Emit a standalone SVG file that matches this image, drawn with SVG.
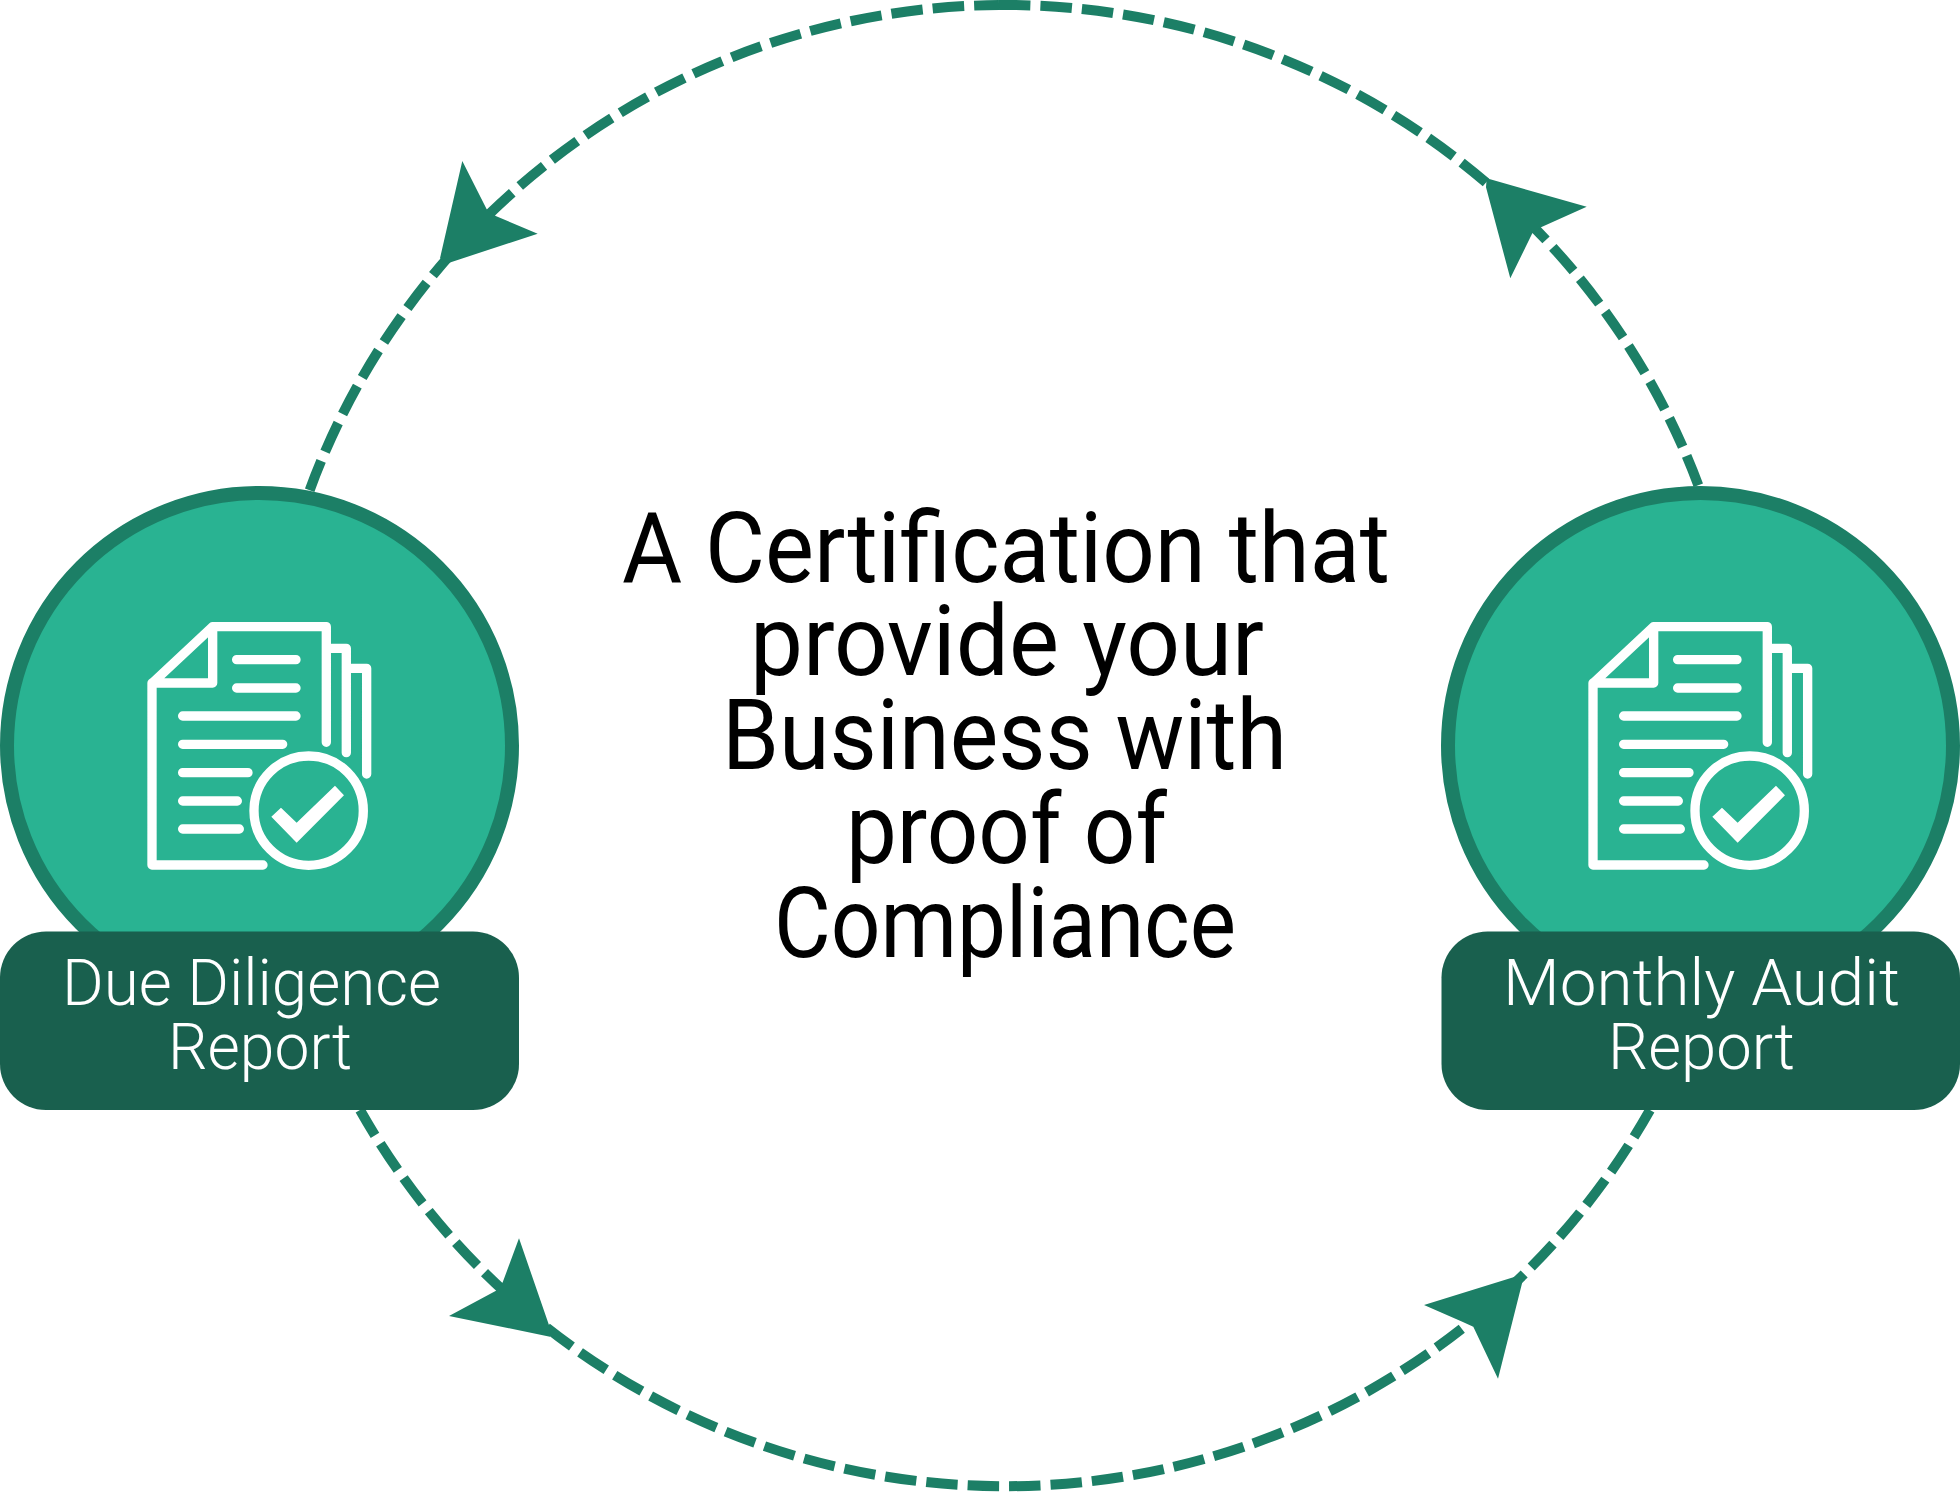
<svg xmlns="http://www.w3.org/2000/svg" xmlns:xlink="http://www.w3.org/1999/xlink" width="1960" height="1492" viewBox="0 0 1960 1492">
<style>
.arc{fill:none;stroke:#1c7f66;stroke-width:10;stroke-dasharray:31.500 10}
.head{fill:#1c7f66}
.disc{fill:#29b392;stroke:#1c7f66;stroke-width:14}
.tag{fill:#19604e}
.ln{fill:none;stroke:#fff;stroke-width:28;stroke-linecap:round;stroke-linejoin:round}
.tick{fill:#fff}
.title{font-family:"Roboto","Liberation Sans",sans-serif;font-size:98px;fill:#000}
.lab{font-family:"Roboto","Liberation Sans",sans-serif;font-weight:300;font-size:65px;fill:#fff}
</style>
<defs>
<g id="doc">
<path class="ln" d="M369 765H36V220L218 50H559V397M218 50V219H36M575 115H619V428M635 175H680V492M290 149H468M290 234H468M128 318H468M128 403H428M128 488H324M128 573H292M128 657H298"/>
<circle class="ln" cx="506" cy="602" r="164"/>
<polygon class="tick" points="394,620 423,593 470,638 585,527 612,556 470,698"/>
</g>
</defs>
<rect width="1960" height="1492" fill="#fff"/>
<g id="connectors">
<path class="arc" d="M999 5A741 741 0 0 1 1699 487"/>
<path class="arc" stroke-dashoffset="6.500" d="M999 5A741 741 0 0 0 309 492"/>
<path class="arc" stroke-dashoffset="2" d="M360 1110A741 741 0 0 0 1650 1110"/>
<polygon class="head" points="462.300,161 486.700,209.300 495.700,216 537.700,233.700 449.300,262.700 440,258.300"/>
<polygon class="head" points="1486.700,178.300 1586.700,206.700 1541,227.300 1532.300,233.300 1510.300,278.300 1486,187.300"/>
<polygon class="head" points="519,1238.300 549.300,1326 550,1336.700 449,1316 496,1290.700 502.700,1282.300"/>
<polygon class="head" points="1424,1305 1515,1276.700 1522.300,1282.300 1498,1378.700 1473.300,1326.700 1462.300,1321.700"/>
</g>
<g id="node-due-diligence">
<circle class="disc" cx="259.500" cy="745.500" r="252.500"/>
<rect class="tag" x="0" y="931.500" width="519" height="178.500" rx="46"/>
<use xlink:href="#doc" href="#doc" transform="translate(140 610) scale(.3333)"/>
<text class="lab" x="62" y="1005" textLength="379" lengthAdjust="spacingAndGlyphs">Due Diligence</text>
<text class="lab" x="168" y="1069" textLength="184" lengthAdjust="spacingAndGlyphs">Report</text>
</g>
<g id="node-monthly-audit">
<circle class="disc" cx="1700.500" cy="745.500" r="252.500"/>
<rect class="tag" x="1441.500" y="931.500" width="518.500" height="178.500" rx="46"/>
<use xlink:href="#doc" href="#doc" transform="translate(1581 610) scale(.3333)"/>
<text class="lab" x="1503" y="1005" textLength="397" lengthAdjust="spacingAndGlyphs">Monthly Audit</text>
<text class="lab" x="1608" y="1069" textLength="187" lengthAdjust="spacingAndGlyphs">Report</text>
</g>
<g id="center-title">
<text class="title" x="622" y="582" textLength="768" lengthAdjust="spacingAndGlyphs">A Certification that</text>
<text class="title" x="750" y="675" textLength="514" lengthAdjust="spacingAndGlyphs">provide your</text>
<text class="title" x="722" y="769" textLength="565" lengthAdjust="spacingAndGlyphs">Business with</text>
<text class="title" x="846" y="863" textLength="321" lengthAdjust="spacingAndGlyphs">proof of</text>
<text class="title" x="774" y="957" textLength="462" lengthAdjust="spacingAndGlyphs">Compliance</text>
</g>
</svg>
